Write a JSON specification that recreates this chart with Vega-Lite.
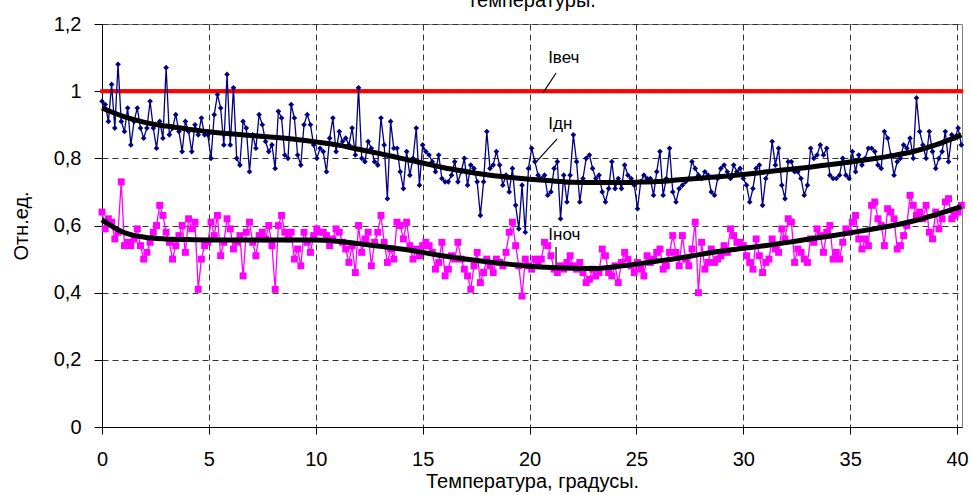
{
  "$schema": "https://vega.github.io/schema/vega-lite/v6.json",
  "autosize": "none",
  "width": 860,
  "height": 403,
  "padding": {"left": 102, "top": 24, "right": 9, "bottom": 68},
  "background": "white",
  "title": {"text": "температуры.", "fontSize": 20, "font": "Liberation Sans", "fontWeight": "normal", "color": "black", "anchor": "middle", "frame": "group", "baseline": "alphabetic", "offset": 4, "dy": 17},
  "config": {
    "font": "Liberation Sans",
    "view": {"stroke": "#808080", "strokeWidth": 1},
    "axis": {"labelFont": "Liberation Sans", "titleFont": "Liberation Sans", "labelFontSize": 20, "titleFontSize": 20, "titleFontWeight": "normal", "labelColor": "black", "titleColor": "black", "tickColor": "black", "domainColor": "black", "tickSize": 8, "gridColor": "#333333", "gridDash": [6, 4], "gridWidth": 1, "gridOpacity": 1}
  },
  "data": {"values": [
{"x":0,"v":1,"d":0.97,"n":0.64},{"x":0.15,"v":1,"d":0.96,"n":0.59},{"x":0.3,"v":1,"d":0.91,"n":0.62},{"x":0.45,"v":1,"d":1.02,"n":0.61},{"x":0.6,"v":1,"d":0.89,"n":0.56},{"x":0.75,"v":1,"d":1.08,"n":0.58},{"x":0.9,"v":1,"d":0.91,"n":0.73},{"x":1.05,"v":1,"d":0.88,"n":0.54},{"x":1.2,"v":1,"d":0.95,"n":0.55},{"x":1.35,"v":1,"d":0.84,"n":0.54},
{"x":1.5,"v":1,"d":0.91,"n":0.56},{"x":1.65,"v":1,"d":0.95,"n":0.59},{"x":1.8,"v":1,"d":0.89,"n":0.54},{"x":1.95,"v":1,"d":0.86,"n":0.50},{"x":2.1,"v":1,"d":0.89,"n":0.52},{"x":2.25,"v":1,"d":0.97,"n":0.55},{"x":2.4,"v":1,"d":0.89,"n":0.58},{"x":2.55,"v":1,"d":0.83,"n":0.60},{"x":2.7,"v":1,"d":0.91,"n":0.66},{"x":2.85,"v":1,"d":0.86,"n":0.63},
{"x":3,"v":1,"d":1.07,"n":0.58},{"x":3.15,"v":1,"d":0.87,"n":0.55},{"x":3.3,"v":1,"d":0.89,"n":0.50},{"x":3.45,"v":1,"d":0.93,"n":0.54},{"x":3.6,"v":1,"d":0.88,"n":0.57},{"x":3.75,"v":1,"d":0.82,"n":0.60},{"x":3.9,"v":1,"d":0.91,"n":0.52},{"x":4.05,"v":1,"d":0.88,"n":0.62},{"x":4.2,"v":1,"d":0.82,"n":0.59},{"x":4.35,"v":1,"d":0.90,"n":0.61},
{"x":4.5,"v":1,"d":0.87,"n":0.41},{"x":4.65,"v":1,"d":0.92,"n":0.50},{"x":4.8,"v":1,"d":0.87,"n":0.54},{"x":4.95,"v":1,"d":0.87,"n":0.55},{"x":5.1,"v":1,"d":0.80,"n":0.61},{"x":5.25,"v":1,"d":0.93,"n":0.57},{"x":5.4,"v":1,"d":0.99,"n":0.63},{"x":5.55,"v":1,"d":0.95,"n":0.51},{"x":5.7,"v":1,"d":0.84,"n":0.55},{"x":5.85,"v":1,"d":1.05,"n":0.62},
{"x":6,"v":1,"d":0.84,"n":0.59},{"x":6.15,"v":1,"d":1.01,"n":0.53},{"x":6.3,"v":1,"d":0.80,"n":0.55},{"x":6.45,"v":1,"d":0.78,"n":0.57},{"x":6.6,"v":1,"d":0.91,"n":0.45},{"x":6.75,"v":1,"d":0.89,"n":0.58},{"x":6.9,"v":1,"d":0.76,"n":0.61},{"x":7.05,"v":1,"d":0.87,"n":0.55},{"x":7.2,"v":1,"d":0.83,"n":0.51},{"x":7.35,"v":1,"d":0.93,"n":0.57},
{"x":7.5,"v":1,"d":0.90,"n":0.58},{"x":7.65,"v":1,"d":0.85,"n":0.56},{"x":7.8,"v":1,"d":0.82,"n":0.60},{"x":7.95,"v":1,"d":0.84,"n":0.54},{"x":8.1,"v":1,"d":0.77,"n":0.41},{"x":8.25,"v":1,"d":0.94,"n":0.60},{"x":8.4,"v":1,"d":0.92,"n":0.63},{"x":8.55,"v":1,"d":0.81,"n":0.58},{"x":8.7,"v":1,"d":0.80,"n":0.56},{"x":8.85,"v":1,"d":0.96,"n":0.58},
{"x":9,"v":1,"d":0.92,"n":0.50},{"x":9.15,"v":1,"d":0.81,"n":0.53},{"x":9.3,"v":1,"d":0.78,"n":0.48},{"x":9.45,"v":1,"d":0.90,"n":0.58},{"x":9.6,"v":1,"d":0.93,"n":0.55},{"x":9.75,"v":1,"d":0.90,"n":0.52},{"x":9.9,"v":1,"d":0.84,"n":0.57},{"x":10.05,"v":1,"d":0.80,"n":0.59},{"x":10.2,"v":1,"d":0.83,"n":0.58},{"x":10.35,"v":1,"d":0.82,"n":0.58},
{"x":10.5,"v":1,"d":0.76,"n":0.57},{"x":10.65,"v":1,"d":0.86,"n":0.54},{"x":10.8,"v":1,"d":0.92,"n":0.56},{"x":10.95,"v":1,"d":0.82,"n":0.59},{"x":11.1,"v":1,"d":0.88,"n":0.58},{"x":11.25,"v":1,"d":0.85,"n":0.55},{"x":11.4,"v":1,"d":0.86,"n":0.53},{"x":11.55,"v":1,"d":0.84,"n":0.49},{"x":11.7,"v":1,"d":0.89,"n":0.54},{"x":11.85,"v":1,"d":0.81,"n":0.46},
{"x":12,"v":1,"d":1.01,"n":0.60},{"x":12.15,"v":1,"d":0.80,"n":0.52},{"x":12.3,"v":1,"d":0.79,"n":0.56},{"x":12.45,"v":1,"d":0.85,"n":0.58},{"x":12.6,"v":1,"d":0.83,"n":0.48},{"x":12.75,"v":1,"d":0.79,"n":0.55},{"x":12.9,"v":1,"d":0.78,"n":0.58},{"x":13.05,"v":1,"d":0.92,"n":0.63},{"x":13.2,"v":1,"d":0.84,"n":0.55},{"x":13.35,"v":1,"d":0.68,"n":0.49},
{"x":13.5,"v":1,"d":0.91,"n":0.53},{"x":13.65,"v":1,"d":0.83,"n":0.50},{"x":13.8,"v":1,"d":0.83,"n":0.61},{"x":13.95,"v":1,"d":0.76,"n":0.60},{"x":14.1,"v":1,"d":0.71,"n":0.56},{"x":14.25,"v":1,"d":0.82,"n":0.61},{"x":14.4,"v":1,"d":0.75,"n":0.54},{"x":14.55,"v":1,"d":0.80,"n":0.50},{"x":14.7,"v":1,"d":0.89,"n":0.53},{"x":14.85,"v":1,"d":0.72,"n":0.51},
{"x":15,"v":1,"d":0.84,"n":0.54},{"x":15.15,"v":1,"d":0.82,"n":0.55},{"x":15.3,"v":1,"d":0.81,"n":0.54},{"x":15.45,"v":1,"d":0.79,"n":0.52},{"x":15.6,"v":1,"d":0.76,"n":0.47},{"x":15.75,"v":1,"d":0.81,"n":0.49},{"x":15.9,"v":1,"d":0.74,"n":0.55},{"x":16.05,"v":1,"d":0.73,"n":0.45},{"x":16.2,"v":1,"d":0.73,"n":0.47},{"x":16.35,"v":1,"d":0.75,"n":0.51},
{"x":16.5,"v":1,"d":0.79,"n":0.50},{"x":16.65,"v":1,"d":0.73,"n":0.55},{"x":16.8,"v":1,"d":0.76,"n":0.50},{"x":16.95,"v":1,"d":0.80,"n":0.47},{"x":17.1,"v":1,"d":0.72,"n":0.45},{"x":17.25,"v":1,"d":0.78,"n":0.41},{"x":17.4,"v":1,"d":0.77,"n":0.48},{"x":17.55,"v":1,"d":0.73,"n":0.52},{"x":17.7,"v":1,"d":0.63,"n":0.43},{"x":17.85,"v":1,"d":0.73,"n":0.46},
{"x":18,"v":1,"d":0.88,"n":0.50},{"x":18.15,"v":1,"d":0.77,"n":0.48},{"x":18.3,"v":1,"d":0.78,"n":0.46},{"x":18.45,"v":1,"d":0.82,"n":0.50},{"x":18.6,"v":1,"d":0.78,"n":0.49},{"x":18.75,"v":1,"d":0.72,"n":0.48},{"x":18.9,"v":1,"d":0.75,"n":0.52},{"x":19.05,"v":1,"d":0.70,"n":0.58},{"x":19.2,"v":1,"d":0.77,"n":0.61},{"x":19.35,"v":1,"d":0.66,"n":0.54},
{"x":19.5,"v":1,"d":0.59,"n":0.48},{"x":19.65,"v":1,"d":0.72,"n":0.39},{"x":19.8,"v":1,"d":0.58,"n":0.50},{"x":19.95,"v":1,"d":0.77,"n":0.48},{"x":20.1,"v":1,"d":0.83,"n":0.47},{"x":20.25,"v":1,"d":0.79,"n":0.50},{"x":20.4,"v":1,"d":0.75,"n":0.49},{"x":20.55,"v":1,"d":0.74,"n":0.50},{"x":20.7,"v":1,"d":0.75,"n":0.55},{"x":20.85,"v":1,"d":0.69,"n":0.54},
{"x":21,"v":1,"d":0.70,"n":0.51},{"x":21.15,"v":1,"d":0.77,"n":0.47},{"x":21.3,"v":1,"d":0.79,"n":0.46},{"x":21.45,"v":1,"d":0.62,"n":0.48},{"x":21.6,"v":1,"d":0.75,"n":0.47},{"x":21.75,"v":1,"d":0.67,"n":0.49},{"x":21.9,"v":1,"d":0.75,"n":0.51},{"x":22.05,"v":1,"d":0.87,"n":0.48},{"x":22.2,"v":1,"d":0.79,"n":0.47},{"x":22.35,"v":1,"d":0.67,"n":0.49},
{"x":22.5,"v":1,"d":0.74,"n":0.46},{"x":22.65,"v":1,"d":0.80,"n":0.43},{"x":22.8,"v":1,"d":0.81,"n":0.44},{"x":22.95,"v":1,"d":0.77,"n":0.47},{"x":23.1,"v":1,"d":0.74,"n":0.45},{"x":23.25,"v":1,"d":0.75,"n":0.46},{"x":23.4,"v":1,"d":0.70,"n":0.53},{"x":23.55,"v":1,"d":0.67,"n":0.51},{"x":23.7,"v":1,"d":0.71,"n":0.46},{"x":23.85,"v":1,"d":0.79,"n":0.45},
{"x":24,"v":1,"d":0.71,"n":0.48},{"x":24.15,"v":1,"d":0.74,"n":0.43},{"x":24.3,"v":1,"d":0.71,"n":0.49},{"x":24.45,"v":1,"d":0.78,"n":0.52},{"x":24.6,"v":1,"d":0.75,"n":0.50},{"x":24.75,"v":1,"d":0.74,"n":0.48},{"x":24.9,"v":1,"d":0.72,"n":0.46},{"x":25.05,"v":1,"d":0.65,"n":0.49},{"x":25.2,"v":1,"d":0.73,"n":0.47},{"x":25.35,"v":1,"d":0.75,"n":0.45},
{"x":25.5,"v":1,"d":0.74,"n":0.51},{"x":25.65,"v":1,"d":0.74,"n":0.49},{"x":25.8,"v":1,"d":0.69,"n":0.50},{"x":25.95,"v":1,"d":0.76,"n":0.52},{"x":26.1,"v":1,"d":0.82,"n":0.53},{"x":26.25,"v":1,"d":0.69,"n":0.47},{"x":26.4,"v":1,"d":0.74,"n":0.48},{"x":26.55,"v":1,"d":0.83,"n":0.52},{"x":26.7,"v":1,"d":0.70,"n":0.57},{"x":26.85,"v":1,"d":0.67,"n":0.52},
{"x":27,"v":1,"d":0.71,"n":0.48},{"x":27.15,"v":1,"d":0.72,"n":0.57},{"x":27.3,"v":1,"d":0.73,"n":0.50},{"x":27.45,"v":1,"d":0.74,"n":0.48},{"x":27.6,"v":1,"d":0.79,"n":0.53},{"x":27.75,"v":1,"d":0.77,"n":0.61},{"x":27.9,"v":1,"d":0.75,"n":0.40},{"x":28.05,"v":1,"d":0.74,"n":0.55},{"x":28.2,"v":1,"d":0.76,"n":0.47},{"x":28.35,"v":1,"d":0.75,"n":0.49},
{"x":28.5,"v":1,"d":0.70,"n":0.53},{"x":28.65,"v":1,"d":0.69,"n":0.49},{"x":28.8,"v":1,"d":0.74,"n":0.50},{"x":28.95,"v":1,"d":0.77,"n":0.51},{"x":29.1,"v":1,"d":0.78,"n":0.54},{"x":29.25,"v":1,"d":0.76,"n":0.52},{"x":29.4,"v":1,"d":0.74,"n":0.59},{"x":29.55,"v":1,"d":0.78,"n":0.57},{"x":29.7,"v":1,"d":0.76,"n":0.55},{"x":29.85,"v":1,"d":0.77,"n":0.55},
{"x":30,"v":1,"d":0.74,"n":0.54},{"x":30.15,"v":1,"d":0.72,"n":0.51},{"x":30.3,"v":1,"d":0.67,"n":0.49},{"x":30.45,"v":1,"d":0.71,"n":0.47},{"x":30.6,"v":1,"d":0.77,"n":0.56},{"x":30.75,"v":1,"d":0.78,"n":0.51},{"x":30.9,"v":1,"d":0.66,"n":0.46},{"x":31.05,"v":1,"d":0.74,"n":0.49},{"x":31.2,"v":1,"d":0.76,"n":0.50},{"x":31.35,"v":1,"d":0.85,"n":0.56},
{"x":31.5,"v":1,"d":0.78,"n":0.53},{"x":31.65,"v":1,"d":0.83,"n":0.52},{"x":31.8,"v":1,"d":0.72,"n":0.59},{"x":31.95,"v":1,"d":0.68,"n":0.56},{"x":32.1,"v":1,"d":0.79,"n":0.62},{"x":32.25,"v":1,"d":0.79,"n":0.61},{"x":32.4,"v":1,"d":0.76,"n":0.49},{"x":32.55,"v":1,"d":0.76,"n":0.53},{"x":32.7,"v":1,"d":0.74,"n":0.52},{"x":32.85,"v":1,"d":0.69,"n":0.50},
{"x":33,"v":1,"d":0.72,"n":0.49},{"x":33.15,"v":1,"d":0.83,"n":0.56},{"x":33.3,"v":1,"d":0.80,"n":0.55},{"x":33.45,"v":1,"d":0.81,"n":0.59},{"x":33.6,"v":1,"d":0.84,"n":0.57},{"x":33.75,"v":1,"d":0.81,"n":0.52},{"x":33.9,"v":1,"d":0.83,"n":0.58},{"x":34.05,"v":1,"d":0.75,"n":0.60},{"x":34.2,"v":1,"d":0.74,"n":0.50},{"x":34.35,"v":1,"d":0.74,"n":0.52},
{"x":34.5,"v":1,"d":0.75,"n":0.50},{"x":34.65,"v":1,"d":0.80,"n":0.55},{"x":34.8,"v":1,"d":0.75,"n":0.59},{"x":34.95,"v":1,"d":0.74,"n":0.58},{"x":35.1,"v":1,"d":0.82,"n":0.61},{"x":35.25,"v":1,"d":0.76,"n":0.63},{"x":35.4,"v":1,"d":0.81,"n":0.56},{"x":35.55,"v":1,"d":0.78,"n":0.53},{"x":35.7,"v":1,"d":0.80,"n":0.56},{"x":35.85,"v":1,"d":0.83,"n":0.54},
{"x":36,"v":1,"d":0.83,"n":0.66},{"x":36.15,"v":1,"d":0.82,"n":0.67},{"x":36.3,"v":1,"d":0.78,"n":0.62},{"x":36.45,"v":1,"d":0.77,"n":0.60},{"x":36.6,"v":1,"d":0.88,"n":0.54},{"x":36.75,"v":1,"d":0.86,"n":0.65},{"x":36.9,"v":1,"d":0.81,"n":0.64},{"x":37.05,"v":1,"d":0.75,"n":0.62},{"x":37.2,"v":1,"d":0.79,"n":0.53},{"x":37.35,"v":1,"d":0.80,"n":0.54},
{"x":37.5,"v":1,"d":0.84,"n":0.57},{"x":37.65,"v":1,"d":0.83,"n":0.60},{"x":37.8,"v":1,"d":0.86,"n":0.69},{"x":37.95,"v":1,"d":0.80,"n":0.66},{"x":38.1,"v":1,"d":0.98,"n":0.63},{"x":38.25,"v":1,"d":0.88,"n":0.64},{"x":38.4,"v":1,"d":0.84,"n":0.62},{"x":38.55,"v":1,"d":0.80,"n":0.66},{"x":38.7,"v":1,"d":0.88,"n":0.58},{"x":38.85,"v":1,"d":0.82,"n":0.56},
{"x":39,"v":1,"d":0.77,"n":0.64},{"x":39.15,"v":1,"d":0.80,"n":0.59},{"x":39.3,"v":1,"d":0.82,"n":0.62},{"x":39.45,"v":1,"d":0.88,"n":0.67},{"x":39.6,"v":1,"d":0.79,"n":0.68},{"x":39.75,"v":1,"d":0.87,"n":0.62},{"x":39.9,"v":1,"d":0.86,"n":0.63},{"x":40.05,"v":1,"d":0.89,"n":0.64},{"x":40.2,"v":1,"d":0.84,"n":0.66}
  ]},
  "encoding": {
    "x": {"field": "x", "type": "quantitative", "scale": {"domain": [0, 40.23], "nice": false, "zero": false},
      "axis": {"values": [0, 5, 10, 15, 20, 25, 30, 35, 40], "title": "Температура, градусы.", "labelPadding": 15, "titlePadding": 2, "tickSize": 7, "labelFlush": false}},
    "y": {"type": "quantitative", "scale": {"domain": [0, 1.2], "nice": false},
      "axis": {"values": [0, 0.2, 0.4, 0.6, 0.8, 1, 1.2], "title": "Отн.ед.", "labelExpr": "replace(format(datum.value, '~g'), '.', ',')", "labelPadding": 13, "titlePadding": 22}}
  },
  "layer": [
    {"mark": {"type": "line", "color": "#FF0000", "strokeWidth": 4, "point": {"shape": "square", "size": 14, "filled": true, "color": "#FF0000", "opacity": 1}},
     "encoding": {"y": {"field": "v", "type": "quantitative"}}},
    {"mark": {"type": "line", "color": "#000080", "strokeWidth": 1.3, "point": {"shape": "diamond", "size": 32, "filled": true, "color": "#000080", "opacity": 1}},
     "encoding": {"y": {"field": "d", "type": "quantitative"}}},
    {"mark": {"type": "line", "color": "#FF00FF", "strokeWidth": 1.3, "point": {"shape": "square", "size": 48, "filled": true, "color": "#FF00FF", "opacity": 1}},
     "encoding": {"y": {"field": "n", "type": "quantitative"}}},
    {"data": {"values": [
      {"x":0,"a":0.95,"b":0.617},{"x":1,"a":0.925,"b":0.58},{"x":2,"a":0.907,"b":0.565},{"x":3,"a":0.896,"b":0.56},{"x":4,"a":0.887,"b":0.558},{"x":5,"a":0.879,"b":0.557},{"x":6,"a":0.873,"b":0.557},{"x":7,"a":0.868,"b":0.557},{"x":8,"a":0.863,"b":0.557},{"x":9,"a":0.857,"b":0.557},{"x":10,"a":0.849,"b":0.557},
      {"x":11,"a":0.84,"b":0.553},{"x":12,"a":0.827,"b":0.546},{"x":13,"a":0.814,"b":0.538},{"x":14,"a":0.8,"b":0.53},{"x":15,"a":0.786,"b":0.52},{"x":16,"a":0.772,"b":0.509},{"x":17,"a":0.761,"b":0.5},{"x":18,"a":0.751,"b":0.492},{"x":19,"a":0.744,"b":0.485},{"x":20,"a":0.738,"b":0.479},
      {"x":21,"a":0.733,"b":0.475},{"x":22,"a":0.729,"b":0.473},{"x":23,"a":0.728,"b":0.472},{"x":24,"a":0.728,"b":0.477},{"x":25,"a":0.729,"b":0.485},{"x":26,"a":0.731,"b":0.494},{"x":27,"a":0.736,"b":0.503},{"x":28,"a":0.741,"b":0.514},{"x":29,"a":0.746,"b":0.524},{"x":30,"a":0.752,"b":0.532},
      {"x":31,"a":0.759,"b":0.54},{"x":32,"a":0.766,"b":0.549},{"x":33,"a":0.773,"b":0.559},{"x":34,"a":0.781,"b":0.568},{"x":35,"a":0.789,"b":0.578},{"x":36,"a":0.798,"b":0.589},{"x":37,"a":0.808,"b":0.6},{"x":38,"a":0.821,"b":0.614},{"x":39,"a":0.84,"b":0.632},{"x":40.2,"a":0.87,"b":0.656}
     ]},
     "layer": [
       {"mark": {"type": "line", "color": "black", "strokeWidth": 5, "interpolate": "monotone"}, "encoding": {"y": {"field": "a", "type": "quantitative"}}},
       {"mark": {"type": "line", "color": "black", "strokeWidth": 5, "interpolate": "monotone"}, "encoding": {"y": {"field": "b", "type": "quantitative"}}}
     ]},
    {"data": {"values": [
      {"x": 21.24, "y": 1.054, "x2": 20.63, "y2": 0.995},
      {"x": 21.29, "y": 0.858, "x2": 20.26, "y2": 0.786},
      {"x": 21.24, "y": 0.536, "x2": 21.24, "y2": 0.473}
     ]},
     "mark": {"type": "rule", "color": "black", "strokeWidth": 1.2},
     "encoding": {"y": {"field": "y", "type": "quantitative"}, "x2": {"field": "x2"}, "y2": {"field": "y2"}}},
    {"data": {"values": [
      {"x": 20.87, "y": 1.0825, "label": "Iвеч"},
      {"x": 20.88, "y": 0.8875, "label": "Iдн"},
      {"x": 20.88, "y": 0.557, "label": "Iноч"}
     ]},
     "mark": {"type": "text", "align": "left", "baseline": "alphabetic", "fontSize": 17, "font": "Liberation Sans", "color": "black"},
     "encoding": {"y": {"field": "y", "type": "quantitative"}, "text": {"field": "label"}}}
  ]
}
